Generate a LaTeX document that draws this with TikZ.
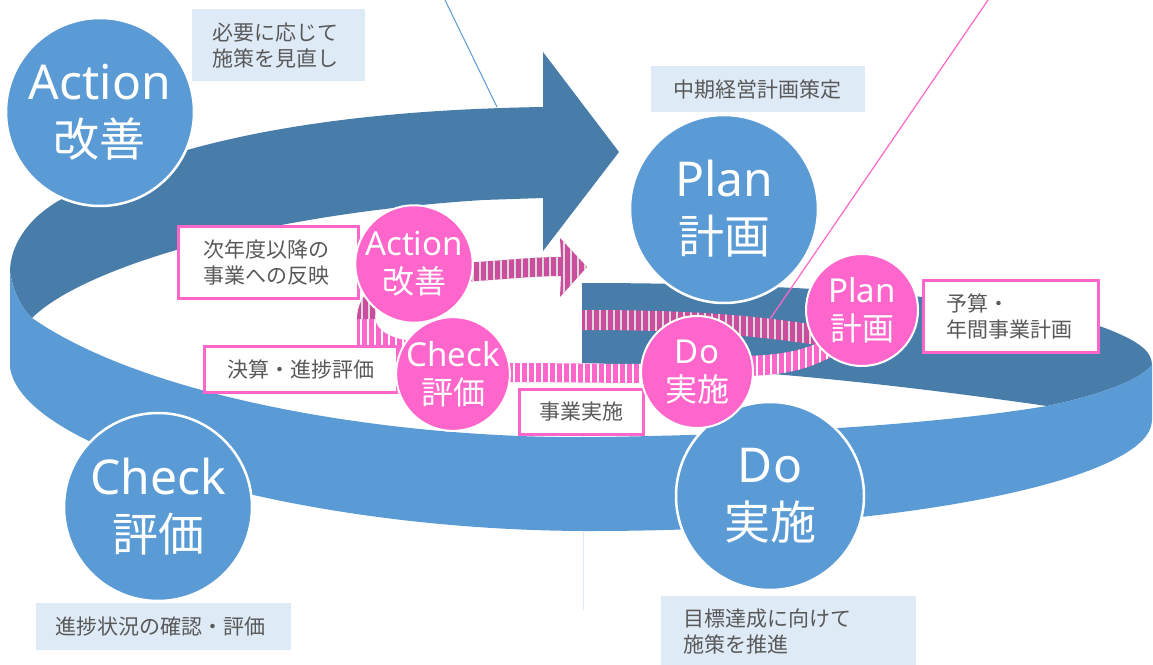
\documentclass[tikz,border=0pt]{standalone}
\usepackage{fontspec}
\setmainfont{Noto Sans}
\newfontfamily\jp{Noto Sans CJK JP}
\definecolor{cblue}{RGB}{91,155,213}
\definecolor{cdark}{RGB}{72,125,170}
\definecolor{cbox}{RGB}{222,234,246}
\definecolor{cgray}{RGB}{89,89,89}
\definecolor{cpink}{RGB}{255,102,204}
\definecolor{cdpink}{RGB}{204,76,158}
\definecolor{cstripe}{RGB}{218,218,218}
\definecolor{cguide}{RGB}{224,233,244}
\tikzset{
  bigcirc/.style={circle, fill=cblue, draw=white, line width=2.5pt, minimum size=188pt, inner sep=0pt, text=white, align=center, font=\fontsize{48}{57}\selectfont},
  pinkcirc/.style={circle, fill=cpink, draw=white, line width=2pt, minimum size=112pt, inner sep=0pt, text=white, align=center, font=\fontsize{33}{38}\selectfont},
  infobox/.style={rectangle, fill=cbox, draw=none, anchor=north west, inner ysep=0pt, align=left, text=cgray, font=\jp\fontsize{21}{26}\selectfont},
  pinkbox/.style={rectangle, fill=white, draw=cpink, line width=2.5pt, anchor=north west, inner ysep=0pt, text=cgray, font=\jp\fontsize{21}{26}\selectfont},
  lightstripe/.style={white, line width=2pt},
  darkstripe/.style={cstripe, line width=2pt},
}
\begin{document}
\begin{tikzpicture}[x=1pt,y=-1pt]
\useasboundingbox (0,0) rectangle (1153,664);
\fill[white] (0,0) rectangle (1153,664);

% back (dark) band with arrow head
\fill[cdark] (543,107) .. controls (350,110) and (180,135) .. (60,200)
  .. controls (25,220) and (10,248) .. (10,272)
  .. controls (14,295) and (22,308) .. (32,318)
  .. controls (80,270) and (250,215) .. (483,200)
  -- (543,198) -- (543,251) -- (619,152) -- (543,52) -- cycle;

% dark inner face on the right
\fill[cdark] (582,283) .. controls (850,283) and (1050,305) .. (1110,330)
  .. controls (1140,342) and (1152,352) .. (1152,365)
  .. controls (1140,380) and (1100,395) .. (1047,406)
  .. controls (900,385) and (750,368) .. (582,363) -- cycle;

% faint guide line
\coordinate (g1) at (583,435);
\coordinate (g2) at (583,610);
\draw[cguide, line width=1pt] (g1) -- (g2);

% front (light) band
\fill[cblue] (10,272) -- (10,367)
  .. controls (20,450) and (300,531) .. (590,531)
  .. controls (900,531) and (1152,480) .. (1152,420)
  -- (1152,365)
  .. controls (1140,380) and (1100,395) .. (1047,406)
  .. controls (950,422) and (800,434) .. (600,437)
  .. controls (400,440) and (150,400) .. (32,318)
  .. controls (22,308) and (14,295) .. (10,272) -- cycle;

% big PDCA circles
\node[bigcirc] (actB) at (100,112) {Action\\\jp\fontsize{46}{57}\selectfont 改善};
\node[bigcirc] (planB) at (724,209) {Plan\\\jp\fontsize{46}{57}\selectfont 計画};
\node[bigcirc] (checkB) at (158,507) {Check\\\jp\fontsize{46}{57}\selectfont 評価};
\node[bigcirc] (doB) at (770,496) {Do\\\jp\fontsize{46}{57}\selectfont 実施};

% light blue info boxes
\node[infobox, minimum width=173pt, minimum height=72pt, inner xsep=20pt, text width=133pt] (nb1) at (192,9) {必要に応じて\\施策を見直し};
\node[infobox, minimum width=214pt, minimum height=46pt, inner xsep=22pt, text width=170pt] (nb2) at (651,66) {中期経営計画策定};
\node[infobox, minimum width=255pt, minimum height=47pt, inner xsep=19pt, text width=217pt] (nb3) at (36,603) {進捗状況の確認・評価};
\node[infobox, minimum width=255pt, minimum height=70pt, inner xsep=22pt, text width=211pt] (nb4) at (661,596) {目標達成に向けて\\施策を推進};

% dark striped band on the right (to Plan)
\begin{scope}
  \clip (582,310) .. controls (700,310) and (760,316) .. (830,327) -- (830,347) .. controls (760,336) and (700,330) .. (582,330) -- cycle;
  \fill[cdpink] (575,300) rectangle (840,355);
  \foreach \x in {586,593,...,835} \draw[darkstripe] (\x,300) -- (\x,355);
\end{scope}

% dark striped arrow from Action
\begin{scope}
  \clip (460,263) .. controls (500,261) and (530,257) .. (561,257) -- (560,238) -- (587,267) -- (560,297) -- (561,276) .. controls (530,276) and (500,280) .. (460,282) -- cycle;
  \fill[cdpink] (455,230) rectangle (590,300);
  \foreach \x in {466,473,...,590} \draw[darkstripe] (\x,230) -- (\x,300);
\end{scope}

% loop from Check back to Action: light part
\begin{scope}
  \clip (357,318) -- (357,352) -- (412,362) -- (412,341) .. controls (392,339) and (376,331) .. (375,318) -- cycle;
  \fill[cpink] (350,310) rectangle (415,365);
  \foreach \x in {361,368,...,415} \draw[lightstripe] (\x,310) -- (\x,365);
\end{scope}
% loop: dark part
\begin{scope}
  \clip (357,319) -- (375,319) .. controls (375,310) and (378,303) .. (386,297) -- (374,287) .. controls (363,294) and (357,306) .. (357,319) -- cycle;
  \fill[cdpink] (350,280) rectangle (390,320);
  \foreach \x in {362,369,...,390} \draw[darkstripe] (\x,280) -- (\x,320);
\end{scope}

% light striped band Check -> Do
\begin{scope}
  \clip (505,363) .. controls (560,363) and (600,364) .. (650,364) -- (650,383) .. controls (600,383) and (560,382) .. (505,382) -- cycle;
  \fill[cpink] (500,355) rectangle (655,390);
  \foreach \x in {514,521,...,655} \draw[lightstripe] (\x,355) -- (\x,390);
\end{scope}

% light striped band Do -> Plan
\begin{scope}
  \clip (745,356) .. controls (790,355) and (810,348) .. (835,335) -- (835,355) .. controls (810,368) and (790,375) .. (745,376) -- cycle;
  \fill[cpink] (740,330) rectangle (840,380);
  \foreach \x in {757,764,...,840} \draw[lightstripe] (\x,330) -- (\x,380);
\end{scope}

% pink bordered boxes
\node[pinkbox, minimum width=180pt, minimum height=72pt, inner xsep=25pt, text width=130pt, align=left] (np1) at (177,225) {次年度以降の\\事業への反映};
\node[pinkbox, minimum width=193pt, minimum height=46pt, inner xsep=10pt, text width=173pt, align=center] (np2) at (203,345) {決算・進捗評価};
\node[pinkbox, minimum width=124pt, minimum height=45pt, inner xsep=8pt, text width=108pt, align=center] (np3) at (518,388) {事業実施};
\node[pinkbox, minimum width=175pt, minimum height=72pt, inner xsep=23pt, text width=129pt, align=left] (np4) at (922,279) {予算・\\年間事業計画};

% pink PDCA circles
\node[pinkcirc] (actP) at (414,264) {Action\\\jp\fontsize{32}{38}\selectfont 改善};
\node[pinkcirc] (checkP) at (453,374) {Check\\\jp\fontsize{32}{38}\selectfont 評価};
\node[pinkcirc] (doP) at (697,372) {Do\\\jp\fontsize{32}{38}\selectfont 実施};
\node[pinkcirc] (planP) at (862,310) {Plan\\\jp\fontsize{32}{38}\selectfont 計画};

% thin lines
\coordinate (bl1) at (445,0);
\coordinate (bl2) at (497,107);
\draw[cblue, line width=1pt] (bl1) -- (bl2);
\coordinate (pl1) at (988,0);
\coordinate (pl2) at (770,319);
\draw[cpink, line width=1.2pt] (pl1) -- (pl2);
\end{tikzpicture}
\end{document}
